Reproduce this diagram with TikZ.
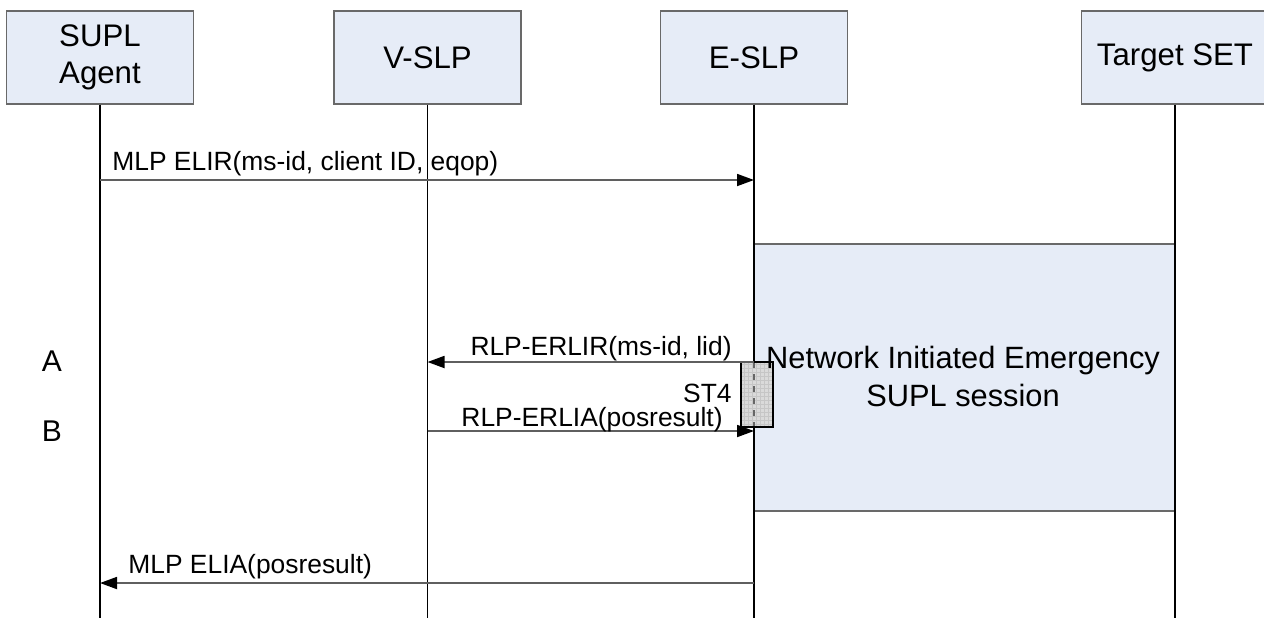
\documentclass[tikz,border=0pt]{standalone}
\usepackage{fontspec}
\setmainfont{Liberation Sans}
\usetikzlibrary{arrows.meta}
\definecolor{boxblue}{RGB}{230,236,247}
\definecolor{boxedge}{RGB}{105,105,105}
\definecolor{msgline}{RGB}{95,95,95}
\definecolor{stfill}{RGB}{218,218,218}
\begin{document}
\begin{tikzpicture}[x=0.5pt,y=-0.5pt,
  entity/.style={draw=boxedge, fill=boxblue, line width=0.7pt, minimum width=93.5pt,
    minimum height=46.5pt, inner sep=0pt, align=center, font=\fontsize{15.6}{18.5}\selectfont},
  life/.style={line width=0.6pt, black},
  msg/.style={draw=msgline, line width=0.9pt, -{Triangle[length=8.5pt,width=6pt,color=black]}},
  msglabel/.style={inner sep=0pt, font=\fontsize{13.2}{16}\selectfont},
  sidelabel/.style={inner sep=0pt, font=\fontsize{15}{18}\selectfont},
]
\useasboundingbox (0,0) rectangle (1264,618);

% entities
\node[entity] (agent) at (100,57.5) {SUPL\\Agent};
\node[entity] (vslp) at (427.5,57.5) {V-SLP};
\node[entity] (eslp) at (754,57.5) {E-SLP};
\node[entity] (set) at (1175,57.5) {Target SET};

% lifeline ends
\coordinate (agentEnd) at (100,618);
\coordinate (vslpEnd) at (427.5,618);
\coordinate (eslpEnd) at (754,618);
\coordinate (setEnd) at (1175,618);

% session box (behind lifelines)
\node[draw=boxedge, fill=boxblue, line width=0.7pt, minimum width=210.5pt, minimum height=133.5pt,
  inner sep=0pt] (session) at (964.5,377.5) {};

% lifelines
\draw[life] (agent.south) -- (agentEnd);
\draw[life] (vslp.south) -- (vslpEnd);
\draw[life] (eslp.south) -- (eslpEnd);
\draw[life] (set.south) -- (setEnd);

% ST4 timer box
\coordinate (stA) at (741,362);
\coordinate (stB) at (773,427);
\fill[stfill] (stA) rectangle (stB);
\begin{scope}
  \clip (stA) rectangle (stB);
  \draw[gray!45, line width=0.2pt, step=2pt] (730,350) grid (790,440);
  \draw[gray!80!black, line width=0.6pt, dashed] (754,362) -- (754,427);
\end{scope}
\draw[black, line width=0.9pt] (stA) rectangle (stB);

% session text
\node[inner sep=0pt, align=center, font=\fontsize{15.4}{19}\selectfont] (sessiontext) at (963,376)
  {Network Initiated Emergency\\SUPL session};

% message coordinates
\coordinate (a1) at (100,180);
\coordinate (e1) at (754,180);
\coordinate (e2) at (754,362);
\coordinate (v2) at (427.5,362);
\coordinate (v3) at (427.5,431);
\coordinate (e3) at (754,431);
\coordinate (e4) at (754,583);
\coordinate (a4) at (100,583);

% messages
\draw[msg] (a1) -- (e1);
\node[msglabel, anchor=base west] (l1) at (112,170) {MLP ELIR(ms-id, client ID, eqop)};

\draw[msg] (e2) -- (v2);
\node[msglabel, anchor=base east] (l2) at (732,355) {RLP-ERLIR(ms-id, lid)};

\node[msglabel, anchor=base east] (st4) at (732,402) {ST4};

\draw[msg] (v3) -- (e3);
\node[msglabel, anchor=base east] (l3) at (723,426) {RLP-ERLIA(posresult)};

\draw[msg] (e4) -- (a4);
\node[msglabel, anchor=base west] (l4) at (128,573) {MLP ELIA(posresult)};

% side labels
\node[sidelabel] (labA) at (52,361) {A};
\node[sidelabel] (labB) at (52,431) {B};
\end{tikzpicture}
\end{document}
